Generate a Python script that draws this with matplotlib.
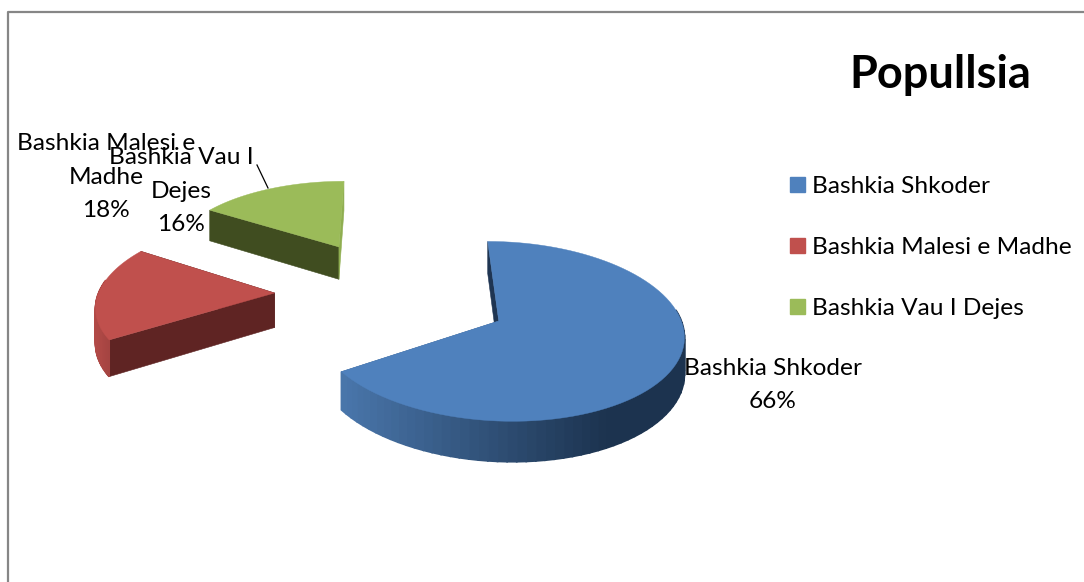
import numpy as np
import matplotlib
matplotlib.use("Agg")
import matplotlib.pyplot as plt
from matplotlib.colors import to_rgb
from matplotlib.patches import Patch

categories = ["Bashkia Shkoder", "Bashkia Malesi e Madhe", "Bashkia Vau I Dejes"]
shares = [66, 18, 16]
title = "Popullsia"

top_colors = ["#4f81bd", "#c0504d", "#9bbb59"]
cut_start_colors = ["#1f3552", "#5f2423", "#404d20"]
cut_end_colors = ["#3f6797", "#5f2423", "#8fae50"]
wall_left = ["#4a77ac", "#b24a47", "#8fae50"]
wall_right = ["#1c334f", "#8f3a38", "#404d20"]

plt.rcParams["font.family"] = ["Lato", "DejaVu Sans"]

# camera: pixels per unit of the pie, plus a little perspective
x0, y0 = 392, 293
rx, ry, persp = 176, 82.4, 0.111
depth = 34.5
explode_x, explode_y = 0.667, 0.68


def project(px, py, drop=0.0):
    w = 1 + persp * py
    return x0 + rx * px / w, y0 - ry * py / w + drop * depth / w


def mix(c1, c2, t):
    return tuple((1 - t) * a + t * b for a, b in zip(to_rgb(c1), to_rgb(c2)))


fig = plt.figure(figsize=(10.84, 5.82), dpi=100)
ax = fig.add_axes([0, 0, 1, 1])
ax.set_xlim(0, 1084)
ax.set_ylim(582, 0)
ax.axis("off")

# frame of the chart, only left and top show in the crop
ax.plot([8, 8, 1084], [582, 12, 12], color="#868686", lw=1.6, solid_capstyle="butt")

edges = np.cumsum([0] + shares) * 3.6
# far slices first so nearer ones paint over them
for i in [2, 1, 0]:
    a0, a1 = np.radians(edges[i]), np.radians(edges[i + 1])
    mid = (a0 + a1) / 2
    cx, cy = explode_x * np.sin(mid), explode_y * np.cos(mid)
    th = np.linspace(a0, a1, 90)
    px = cx + np.sin(th)
    py = cy + np.cos(th)

    # flat cut faces
    for a, col in [(a0, cut_start_colors[i]), (a1, cut_end_colors[i])]:
        ex, ey = cx + np.sin(a), cy + np.cos(a)
        p = [project(cx, cy), project(ex, ey), project(ex, ey, 1), project(cx, cy, 1)]
        ax.fill(*zip(*p), color=col, lw=0.4)

    # round wall, shaded strip by strip
    sx, sy = project(px, py)
    sx2, sy2 = project(px, py, 1)
    for j in range(len(th) - 1):
        if np.cos(th[j]) > 0.15:
            continue
        t = np.clip((sx[j] - sx.min()) / (0.78 * (sx.max() - sx.min())), 0, 1)
        col = mix(wall_left[i], wall_right[i], t)
        ax.fill([sx[j], sx[j + 1], sx2[j + 1], sx2[j]],
                [sy[j], sy[j + 1], sy2[j + 1], sy2[j]], color=col, lw=1.2)

    # top face
    ax_x, ax_y = project(cx, cy)
    ax.fill(np.r_[ax_x, sx], np.r_[ax_y, sy], color=top_colors[i], lw=0.3)

label_size = 17.6
ax.text(773, 385, f"{categories[0]}\n{shares[0]}%", ha="center", va="center",
        fontsize=label_size, linespacing=1.72)
ax.text(106, 177, f"Bashkia Malesi e\nMadhe\n{shares[1]}%", ha="center", va="center",
        fontsize=label_size, linespacing=1.72)
ax.text(181, 191, f"Bashkia Vau I\nDejes\n{shares[2]}%", ha="center", va="center",
        fontsize=label_size, linespacing=1.72)
ax.plot([257, 268], [165, 188], color="black", lw=0.9)

ax.text(940, 88, title, ha="center", va="baseline", fontsize=32.5, fontweight="bold")

handles = [Patch(color=c) for c in top_colors]
ax.legend(handles, categories, loc="upper left", bbox_to_anchor=(790, 176),
          bbox_transform=ax.transData, frameon=False, fontsize=label_size,
          borderpad=0, borderaxespad=0, handlelength=0.61, handleheight=0.61,
          handletextpad=0.29, labelspacing=1.64)

fig.savefig("out.png", dpi=100)
